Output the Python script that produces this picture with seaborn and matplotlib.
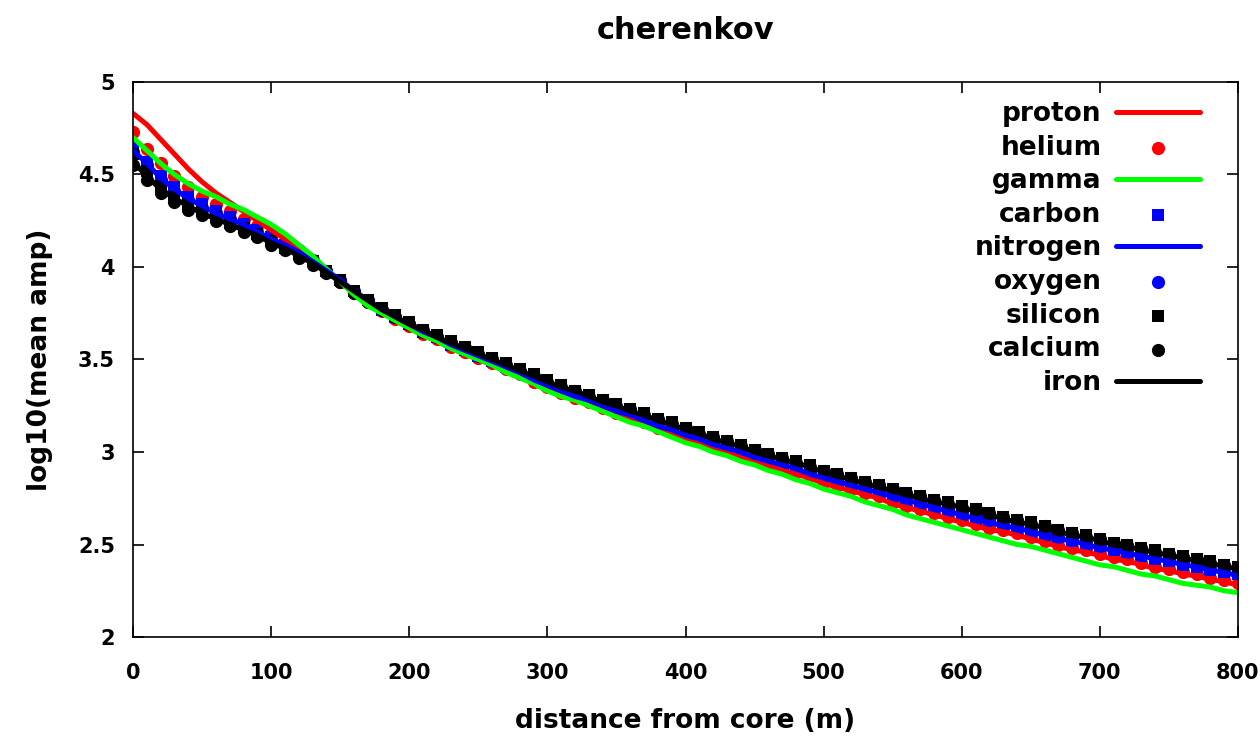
import numpy as np
import pandas as pd
import seaborn as sns
import matplotlib.pyplot as plt

# distance from core (m), one sample every 10 m
distance = list(range(0, 810, 10))

proton = [4.83, 4.77, 4.69, 4.61, 4.53, 4.46, 4.40, 4.35, 4.30, 4.25,
          4.20, 4.15, 4.10, 4.04, 3.98, 3.92, 3.86, 3.80, 3.76, 3.71,
          3.67, 3.63, 3.60, 3.56, 3.53, 3.50, 3.47, 3.44, 3.41, 3.37,
          3.34, 3.31, 3.28, 3.26, 3.23, 3.20, 3.18, 3.15, 3.12, 3.10,
          3.07, 3.05, 3.02, 3.00, 2.97, 2.95, 2.93, 2.90, 2.88, 2.86,
          2.83, 2.81, 2.79, 2.77, 2.75, 2.72, 2.70, 2.68, 2.66, 2.64,
          2.62, 2.60, 2.58, 2.57, 2.55, 2.53, 2.51, 2.49, 2.47, 2.46,
          2.44, 2.42, 2.41, 2.39, 2.37, 2.36, 2.34, 2.33, 2.31, 2.30,
          2.28]
helium = [4.73, 4.64, 4.56, 4.49, 4.43, 4.38, 4.34, 4.30, 4.26, 4.22,
          4.18, 4.13, 4.09, 4.04, 3.98, 3.92, 3.86, 3.81, 3.76, 3.72,
          3.68, 3.64, 3.61, 3.57, 3.54, 3.51, 3.48, 3.45, 3.42, 3.38,
          3.35, 3.32, 3.29, 3.27, 3.24, 3.21, 3.19, 3.16, 3.13, 3.11,
          3.08, 3.06, 3.03, 3.01, 2.98, 2.96, 2.94, 2.91, 2.89, 2.87,
          2.84, 2.82, 2.80, 2.78, 2.76, 2.73, 2.71, 2.69, 2.67, 2.65,
          2.63, 2.61, 2.59, 2.58, 2.56, 2.54, 2.52, 2.50, 2.48, 2.47,
          2.45, 2.43, 2.42, 2.40, 2.38, 2.37, 2.35, 2.34, 2.32, 2.31,
          2.29]
gamma = [4.70, 4.63, 4.56, 4.50, 4.45, 4.41, 4.38, 4.34, 4.31, 4.27,
         4.23, 4.18, 4.12, 4.06, 3.99, 3.92, 3.85, 3.79, 3.75, 3.71,
         3.67, 3.63, 3.60, 3.56, 3.53, 3.50, 3.47, 3.43, 3.40, 3.37,
         3.33, 3.30, 3.28, 3.25, 3.22, 3.19, 3.16, 3.14, 3.11, 3.08,
         3.05, 3.03, 3.00, 2.98, 2.95, 2.93, 2.90, 2.88, 2.85, 2.83,
         2.80, 2.78, 2.76, 2.73, 2.71, 2.69, 2.66, 2.64, 2.62, 2.60,
         2.58, 2.56, 2.54, 2.52, 2.50, 2.49, 2.47, 2.45, 2.43, 2.41,
         2.39, 2.38, 2.36, 2.34, 2.33, 2.31, 2.29, 2.28, 2.27, 2.25,
         2.24]
carbon = [4.65, 4.57, 4.49, 4.43, 4.38, 4.34, 4.30, 4.27, 4.23, 4.20,
          4.16, 4.12, 4.08, 4.03, 3.98, 3.93, 3.87, 3.82, 3.77, 3.73,
          3.69, 3.65, 3.62, 3.58, 3.55, 3.52, 3.49, 3.46, 3.43, 3.40,
          3.36, 3.33, 3.31, 3.28, 3.25, 3.23, 3.20, 3.17, 3.15, 3.12,
          3.10, 3.07, 3.05, 3.02, 3.00, 2.98, 2.95, 2.93, 2.91, 2.89,
          2.86, 2.84, 2.82, 2.80, 2.78, 2.76, 2.74, 2.72, 2.70, 2.68,
          2.66, 2.64, 2.63, 2.61, 2.59, 2.57, 2.55, 2.54, 2.52, 2.50,
          2.49, 2.47, 2.46, 2.44, 2.42, 2.41, 2.39, 2.38, 2.36, 2.35,
          2.34]
nitrogen = [4.63, 4.56, 4.48, 4.42, 4.37, 4.33, 4.29, 4.26, 4.23, 4.19,
            4.15, 4.12, 4.08, 4.03, 3.98, 3.93, 3.87, 3.82, 3.77, 3.73,
            3.69, 3.65, 3.62, 3.58, 3.55, 3.52, 3.49, 3.46, 3.43, 3.39,
            3.36, 3.33, 3.30, 3.28, 3.25, 3.22, 3.20, 3.17, 3.14, 3.12,
            3.09, 3.07, 3.04, 3.02, 3.00, 2.97, 2.95, 2.93, 2.91, 2.88,
            2.86, 2.84, 2.82, 2.80, 2.78, 2.76, 2.74, 2.72, 2.70, 2.68,
            2.66, 2.64, 2.62, 2.60, 2.59, 2.57, 2.55, 2.53, 2.52, 2.50,
            2.48, 2.47, 2.45, 2.44, 2.42, 2.41, 2.39, 2.38, 2.36, 2.35,
            2.33]
oxygen = [4.62, 4.55, 4.47, 4.41, 4.36, 4.32, 4.29, 4.26, 4.22, 4.19,
          4.15, 4.11, 4.07, 4.03, 3.98, 3.93, 3.87, 3.82, 3.77, 3.73,
          3.69, 3.66, 3.62, 3.59, 3.56, 3.52, 3.49, 3.46, 3.43, 3.40,
          3.37, 3.34, 3.31, 3.28, 3.26, 3.23, 3.20, 3.18, 3.15, 3.13,
          3.10, 3.08, 3.05, 3.03, 3.00, 2.98, 2.96, 2.94, 2.91, 2.89,
          2.87, 2.85, 2.83, 2.81, 2.79, 2.77, 2.75, 2.73, 2.71, 2.69,
          2.67, 2.65, 2.63, 2.61, 2.60, 2.58, 2.56, 2.54, 2.53, 2.51,
          2.49, 2.48, 2.46, 2.45, 2.43, 2.42, 2.40, 2.39, 2.37, 2.36,
          2.35]
silicon = [4.61, 4.52, 4.44, 4.38, 4.34, 4.30, 4.27, 4.24, 4.21, 4.18,
           4.14, 4.10, 4.07, 4.03, 3.98, 3.93, 3.87, 3.82, 3.78, 3.74,
           3.70, 3.66, 3.63, 3.60, 3.57, 3.54, 3.51, 3.48, 3.45, 3.42,
           3.39, 3.36, 3.33, 3.31, 3.28, 3.26, 3.23, 3.21, 3.18, 3.16,
           3.13, 3.11, 3.08, 3.06, 3.04, 3.01, 2.99, 2.97, 2.95, 2.93,
           2.90, 2.88, 2.86, 2.84, 2.82, 2.80, 2.78, 2.76, 2.74, 2.73,
           2.71, 2.69, 2.67, 2.65, 2.63, 2.62, 2.60, 2.58, 2.56, 2.55,
           2.53, 2.51, 2.50, 2.48, 2.47, 2.45, 2.44, 2.42, 2.41, 2.39,
           2.38]
calcium = [4.55, 4.47, 4.40, 4.35, 4.31, 4.28, 4.25, 4.22, 4.19, 4.16,
           4.12, 4.09, 4.05, 4.01, 3.97, 3.92, 3.86, 3.81, 3.77, 3.73,
           3.69, 3.65, 3.62, 3.59, 3.56, 3.53, 3.50, 3.47, 3.44, 3.41,
           3.38, 3.35, 3.33, 3.30, 3.28, 3.25, 3.23, 3.20, 3.18, 3.15,
           3.13, 3.10, 3.08, 3.06, 3.03, 3.01, 2.99, 2.97, 2.94, 2.92,
           2.90, 2.88, 2.86, 2.84, 2.82, 2.80, 2.78, 2.76, 2.74, 2.72,
           2.70, 2.69, 2.67, 2.65, 2.63, 2.61, 2.60, 2.58, 2.56, 2.54,
           2.53, 2.51, 2.50, 2.48, 2.46, 2.45, 2.43, 2.42, 2.40, 2.39,
           2.38]
iron = [4.57, 4.49, 4.42, 4.37, 4.33, 4.29, 4.26, 4.23, 4.20, 4.17,
        4.13, 4.10, 4.06, 4.02, 3.97, 3.92, 3.87, 3.82, 3.77, 3.73,
        3.69, 3.66, 3.62, 3.59, 3.56, 3.53, 3.50, 3.47, 3.44, 3.41,
        3.38, 3.35, 3.33, 3.30, 3.27, 3.25, 3.22, 3.20, 3.17, 3.15,
        3.12, 3.10, 3.07, 3.05, 3.03, 3.00, 2.98, 2.96, 2.94, 2.92,
        2.89, 2.87, 2.85, 2.83, 2.81, 2.79, 2.77, 2.75, 2.73, 2.72,
        2.70, 2.68, 2.66, 2.64, 2.62, 2.61, 2.59, 2.57, 2.55, 2.54,
        2.52, 2.50, 2.49, 2.47, 2.46, 2.44, 2.43, 2.41, 2.40, 2.38,
        2.37]

# (name, values, colour, kind) in drawing / legend order
series = [
    ("proton", proton, "#ff0000", "line"),
    ("helium", helium, "#ff0000", "o"),
    ("gamma", gamma, "#00ff00", "line"),
    ("carbon", carbon, "#0000ff", "s"),
    ("nitrogen", nitrogen, "#0000ff", "line"),
    ("oxygen", oxygen, "#0000ff", "o"),
    ("silicon", silicon, "#000000", "s"),
    ("calcium", calcium, "#000000", "o"),
    ("iron", iron, "#000000", "line"),
]


def main():
    sns.set_style("ticks")
    plt.rcParams.update({
        "font.family": ["DejaVu Sans"],
        "font.weight": "bold",
        "text.color": "black",
        "axes.labelcolor": "black",
        "xtick.color": "black",
        "ytick.color": "black",
    })

    fig = plt.figure(figsize=(12.6, 7.42), dpi=100)
    ax = fig.add_axes([0.1056, 0.1415, 0.8769, 0.748])

    for name, vals, color, kind in series:
        df = pd.DataFrame({"distance": distance, "amp": vals})
        if kind == "line":
            sns.lineplot(data=df, x="distance", y="amp", color=color,
                         linewidth=3.6, label=name, ax=ax)
        else:
            size = 9.5 if kind == "o" else 8.6
            sns.scatterplot(data=df, x="distance", y="amp", color=color,
                            marker=kind, s=size ** 2, linewidth=0,
                            label=name, ax=ax)

    ax.set_xlim(0, 800)
    ax.set_ylim(2, 5)
    ax.set_xticks(range(0, 801, 100))
    ax.set_yticks([2, 2.5, 3, 3.5, 4, 4.5, 5])
    ax.set_yticklabels(["2", "2.5", "3", "3.5", "4", "4.5", "5"])
    ax.tick_params(direction="in", length=8, width=1.2, top=True, right=True,
                   labelsize=15, colors="black")
    ax.tick_params(axis="x", pad=19)
    ax.tick_params(axis="y", pad=13)
    for lab in ax.get_xticklabels() + ax.get_yticklabels():
        lab.set_fontweight("bold")
    for sp in ax.spines.values():
        sp.set_linewidth(1.2)
        sp.set_color("black")

    ax.set_title("cherenkov", fontsize=22, fontweight="bold", pad=31)
    ax.set_xlabel("distance from core (m)", fontsize=19, fontweight="bold",
                  labelpad=18)
    ax.set_ylabel("log10(mean amp)", fontsize=19, fontweight="bold",
                  labelpad=18)

    handles, labels = ax.get_legend_handles_labels()
    leg = ax.legend(handles, labels, loc="upper right",
                    bbox_to_anchor=(0.966, 0.966), frameon=False,
                    markerfirst=False, fontsize=19, handlelength=3.2,
                    handletextpad=0.55, labelspacing=0.29, borderpad=0,
                    borderaxespad=0, markerscale=1.0)
    for t in leg.get_texts():
        t.set_fontweight("bold")

    fig.savefig("out.png", dpi=100)


if __name__ == "__main__":
    main()
